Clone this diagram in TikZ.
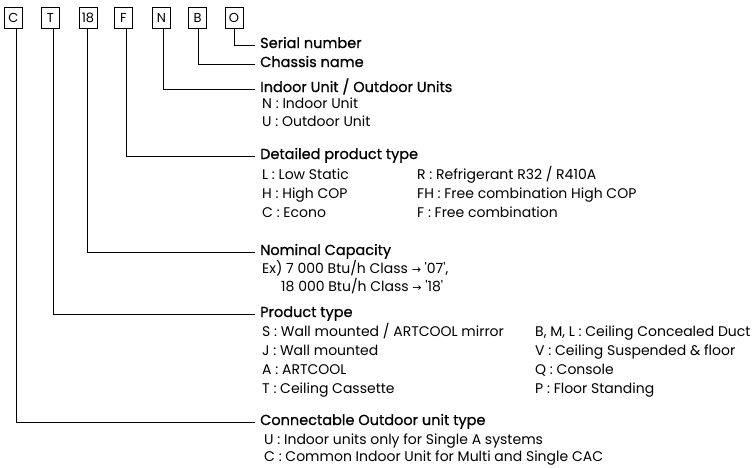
\documentclass[tikz,border=0pt]{standalone}
\usepackage{fontspec}
\setmainfont{Poppins}[Ligatures=TeXOff]
\newfontfamily\headfont{Poppins}[FakeBold=0.8,Ligatures=TeXOff]
\newfontfamily\arrowfont{DejaVu Sans}
\newcommand{\rarr}{{\arrowfont\fontsize{11}{13}\selectfont →}}
\begin{document}
\begin{tikzpicture}[x=1pt,y=-1pt,
  code/.style={draw, line width=0.8pt, minimum height=21pt, minimum width=18pt, inner sep=1pt, font=\fontsize{13}{15}\selectfont},
  lbl/.style={anchor=base west, inner sep=0pt, font=\fontsize{14}{16}\selectfont},
  head/.style={anchor=base west, inner sep=0pt, font=\fontsize{14.5}{16}\headfont},
  link/.style={line width=0.8pt}]
\useasboundingbox (0,0) rectangle (754,467);
% code boxes
\node[code] (bC) at (13.3,17.5) {C};
\node[code] (bT) at (50.5,17.5) {T};
\node[code] (b18) at (88,17.5) {18};
\node[code] (bF) at (123.5,17.5) {F};
\node[code] (bN) at (161.5,17.5) {N};
\node[code] (bB) at (197.5,17.5) {B};
\node[code] (bO) at (234,17.5) {O};
% line ends
\coordinate (eO) at (255,45);
\coordinate (eB) at (255,64);
\coordinate (eN) at (255,89);
\coordinate (eF) at (255,156);
\coordinate (e18) at (255,252);
\coordinate (eT) at (255,314);
\coordinate (eC) at (255,422);
\draw[link] ([xshift=0.5pt]bO.south) |- (eO);
\draw[link] ([xshift=0.5pt]bB.south) |- (eB);
\draw[link] ([xshift=2pt]bN.south) |- (eN);
\draw[link] ([xshift=2.5pt]bF.south) |- (eF);
\draw[link] ([xshift=-0.5pt]b18.south) |- (e18);
\draw[link] ([xshift=2.5pt]bT.south) |- (eT);
\draw[link] ([xshift=3pt]bC.south) |- (eC);
% headings
\node[head] (hO) at (260,48) {Serial number};
\node[head] (hB) at (260,67) {Chassis name};
\node[head] (hN) at (260,92) {Indoor Unit / Outdoor Units};
\node[head] (hF) at (260,159) {Detailed product type};
\node[head] (h18) at (260,255) {Nominal Capacity};
\node[head] (hT) at (260,317) {Product type};
\node[head] (hC) at (260,425) {Connectable Outdoor unit type};
% items
\node[lbl] (n1) at (262,108) {N : Indoor Unit};
\node[lbl] (n2) at (262,126) {U : Outdoor Unit};
\node[lbl] (f1) at (262,179) {L : Low Static};
\node[lbl] (f2) at (262,198) {H : High COP};
\node[lbl] (f3) at (262,217) {C : Econo};
\node[lbl] (f4) at (417,179) {R : Refrigerant R32 / R410A};
\node[lbl] (f5) at (417,198) {FH : Free combination High COP};
\node[lbl] (f6) at (417,217) {F : Free combination};
\node[lbl] (c1) at (262,273) {Ex) 7 000 Btu/h Class \rarr{} '07',};
\node[lbl] (c2) at (281,291) {18 000 Btu/h Class \rarr{} '18'};
\node[lbl] (t1) at (262,336) {S : Wall mounted / ARTCOOL mirror};
\node[lbl] (t2) at (262,355) {J : Wall mounted};
\node[lbl] (t3) at (262,374) {A : ARTCOOL};
\node[lbl] (t4) at (262,393) {T : Ceiling Cassette};
\node[lbl] (t5) at (535,336) {B, M, L : Ceiling Concealed Duct};
\node[lbl] (t6) at (535,355) {V : Ceiling Suspended \& floor};
\node[lbl] (t7) at (535,374) {Q : Console};
\node[lbl] (t8) at (535,393) {P : Floor Standing};
\node[lbl] (o1) at (264,444) {U : Indoor units only for Single A systems};
\node[lbl] (o2) at (264,461) {C : Common Indoor Unit for Multi and Single CAC};
\end{tikzpicture}
\end{document}
